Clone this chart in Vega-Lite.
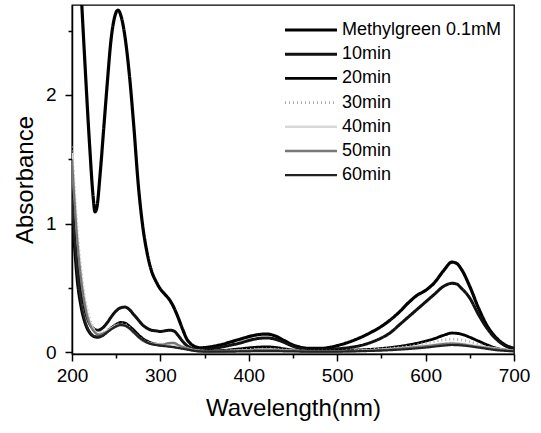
{
  "$schema": "https://vega.github.io/schema/vega-lite/v6.json",
  "width": 442,
  "height": 349,
  "autosize": {"type": "none"},
  "padding": {"left": 72, "top": 5, "right": 27, "bottom": 79},
  "background": "white",
  "config": {
    "font": "Liberation Sans",
    "view": {"stroke": "black", "strokeWidth": 1.3},
    "axis": {
      "domainColor": "black", "domainWidth": 1.5, "tickColor": "black", "tickWidth": 1.5,
      "labelColor": "black", "titleColor": "black", "labelFont": "Liberation Sans", "titleFont": "Liberation Sans",
      "labelFontSize": 19, "titleFontSize": 24, "titleFontWeight": "normal", "grid": false
    }
  },
  "data": {"values": [
    {"s":"Methylgreen 0.1mM","x":200,"y":4.5},{"s":"Methylgreen 0.1mM","x":205,"y":3.6},{"s":"Methylgreen 0.1mM","x":210,"y":2.85},{"s":"Methylgreen 0.1mM","x":215,"y":2.2},{"s":"Methylgreen 0.1mM","x":220,"y":1.6},{"s":"Methylgreen 0.1mM","x":224,"y":1.2},{"s":"Methylgreen 0.1mM","x":226,"y":1.09},{"s":"Methylgreen 0.1mM","x":228,"y":1.12},{"s":"Methylgreen 0.1mM","x":232,"y":1.4},{"s":"Methylgreen 0.1mM","x":236,"y":1.75},{"s":"Methylgreen 0.1mM","x":240,"y":2.1},{"s":"Methylgreen 0.1mM","x":244,"y":2.42},{"s":"Methylgreen 0.1mM","x":248,"y":2.6},{"s":"Methylgreen 0.1mM","x":252,"y":2.66},{"s":"Methylgreen 0.1mM","x":256,"y":2.6},{"s":"Methylgreen 0.1mM","x":260,"y":2.45},{"s":"Methylgreen 0.1mM","x":265,"y":2.15},{"s":"Methylgreen 0.1mM","x":270,"y":1.75},{"s":"Methylgreen 0.1mM","x":275,"y":1.3},{"s":"Methylgreen 0.1mM","x":280,"y":0.98},{"s":"Methylgreen 0.1mM","x":285,"y":0.77},{"s":"Methylgreen 0.1mM","x":290,"y":0.63},{"s":"Methylgreen 0.1mM","x":295,"y":0.55},{"s":"Methylgreen 0.1mM","x":300,"y":0.49},{"s":"Methylgreen 0.1mM","x":305,"y":0.45},{"s":"Methylgreen 0.1mM","x":310,"y":0.41},{"s":"Methylgreen 0.1mM","x":315,"y":0.35},{"s":"Methylgreen 0.1mM","x":320,"y":0.27},{"s":"Methylgreen 0.1mM","x":325,"y":0.18},{"s":"Methylgreen 0.1mM","x":330,"y":0.1},{"s":"Methylgreen 0.1mM","x":335,"y":0.06},{"s":"Methylgreen 0.1mM","x":340,"y":0.04},{"s":"Methylgreen 0.1mM","x":345,"y":0.033},{"s":"Methylgreen 0.1mM","x":350,"y":0.035},{"s":"Methylgreen 0.1mM","x":360,"y":0.045},{"s":"Methylgreen 0.1mM","x":370,"y":0.06},{"s":"Methylgreen 0.1mM","x":380,"y":0.08},{"s":"Methylgreen 0.1mM","x":390,"y":0.1},{"s":"Methylgreen 0.1mM","x":400,"y":0.12},{"s":"Methylgreen 0.1mM","x":410,"y":0.135},{"s":"Methylgreen 0.1mM","x":420,"y":0.14},{"s":"Methylgreen 0.1mM","x":430,"y":0.125},{"s":"Methylgreen 0.1mM","x":440,"y":0.09},{"s":"Methylgreen 0.1mM","x":450,"y":0.055},{"s":"Methylgreen 0.1mM","x":460,"y":0.035},{"s":"Methylgreen 0.1mM","x":470,"y":0.028},{"s":"Methylgreen 0.1mM","x":480,"y":0.028},{"s":"Methylgreen 0.1mM","x":490,"y":0.035},{"s":"Methylgreen 0.1mM","x":500,"y":0.05},{"s":"Methylgreen 0.1mM","x":510,"y":0.07},{"s":"Methylgreen 0.1mM","x":520,"y":0.095},{"s":"Methylgreen 0.1mM","x":530,"y":0.125},{"s":"Methylgreen 0.1mM","x":540,"y":0.16},{"s":"Methylgreen 0.1mM","x":550,"y":0.2},{"s":"Methylgreen 0.1mM","x":560,"y":0.25},{"s":"Methylgreen 0.1mM","x":570,"y":0.31},{"s":"Methylgreen 0.1mM","x":580,"y":0.38},{"s":"Methylgreen 0.1mM","x":590,"y":0.44},{"s":"Methylgreen 0.1mM","x":600,"y":0.48},{"s":"Methylgreen 0.1mM","x":610,"y":0.54},{"s":"Methylgreen 0.1mM","x":620,"y":0.63},{"s":"Methylgreen 0.1mM","x":630,"y":0.7},{"s":"Methylgreen 0.1mM","x":635,"y":0.69},{"s":"Methylgreen 0.1mM","x":640,"y":0.65},{"s":"Methylgreen 0.1mM","x":650,"y":0.51},{"s":"Methylgreen 0.1mM","x":660,"y":0.34},{"s":"Methylgreen 0.1mM","x":670,"y":0.2},{"s":"Methylgreen 0.1mM","x":680,"y":0.11},{"s":"Methylgreen 0.1mM","x":690,"y":0.055},{"s":"Methylgreen 0.1mM","x":700,"y":0.03},

    {"s":"10min","x":200,"y":1.3},{"s":"10min","x":203,"y":1.0},{"s":"10min","x":206,"y":0.75},{"s":"10min","x":210,"y":0.5},{"s":"10min","x":215,"y":0.32},{"s":"10min","x":220,"y":0.22},{"s":"10min","x":225,"y":0.18},{"s":"10min","x":229,"y":0.17},{"s":"10min","x":235,"y":0.19},{"s":"10min","x":240,"y":0.23},{"s":"10min","x":245,"y":0.28},{"s":"10min","x":250,"y":0.32},{"s":"10min","x":255,"y":0.345},{"s":"10min","x":260,"y":0.35},{"s":"10min","x":265,"y":0.33},{"s":"10min","x":270,"y":0.29},{"s":"10min","x":275,"y":0.25},{"s":"10min","x":280,"y":0.21},{"s":"10min","x":285,"y":0.185},{"s":"10min","x":290,"y":0.17},{"s":"10min","x":295,"y":0.165},{"s":"10min","x":300,"y":0.16},{"s":"10min","x":305,"y":0.165},{"s":"10min","x":310,"y":0.17},{"s":"10min","x":315,"y":0.165},{"s":"10min","x":320,"y":0.13},{"s":"10min","x":325,"y":0.085},{"s":"10min","x":330,"y":0.05},{"s":"10min","x":335,"y":0.03},{"s":"10min","x":340,"y":0.022},{"s":"10min","x":345,"y":0.02},{"s":"10min","x":350,"y":0.022},{"s":"10min","x":360,"y":0.03},{"s":"10min","x":370,"y":0.04},{"s":"10min","x":380,"y":0.055},{"s":"10min","x":390,"y":0.07},{"s":"10min","x":400,"y":0.09},{"s":"10min","x":410,"y":0.105},{"s":"10min","x":420,"y":0.11},{"s":"10min","x":430,"y":0.1},{"s":"10min","x":440,"y":0.075},{"s":"10min","x":450,"y":0.045},{"s":"10min","x":460,"y":0.025},{"s":"10min","x":470,"y":0.018},{"s":"10min","x":480,"y":0.018},{"s":"10min","x":490,"y":0.02},{"s":"10min","x":500,"y":0.025},{"s":"10min","x":510,"y":0.032},{"s":"10min","x":520,"y":0.042},{"s":"10min","x":530,"y":0.057},{"s":"10min","x":540,"y":0.08},{"s":"10min","x":550,"y":0.11},{"s":"10min","x":560,"y":0.15},{"s":"10min","x":570,"y":0.21},{"s":"10min","x":580,"y":0.27},{"s":"10min","x":590,"y":0.33},{"s":"10min","x":600,"y":0.39},{"s":"10min","x":610,"y":0.45},{"s":"10min","x":620,"y":0.51},{"s":"10min","x":630,"y":0.535},{"s":"10min","x":635,"y":0.53},{"s":"10min","x":640,"y":0.5},{"s":"10min","x":650,"y":0.42},{"s":"10min","x":660,"y":0.29},{"s":"10min","x":670,"y":0.18},{"s":"10min","x":680,"y":0.1},{"s":"10min","x":690,"y":0.05},{"s":"10min","x":700,"y":0.028},

    {"s":"20min","x":200,"y":1.1},{"s":"20min","x":203,"y":0.8},{"s":"20min","x":206,"y":0.55},{"s":"20min","x":210,"y":0.36},{"s":"20min","x":215,"y":0.22},{"s":"20min","x":220,"y":0.15},{"s":"20min","x":225,"y":0.12},{"s":"20min","x":229,"y":0.115},{"s":"20min","x":235,"y":0.13},{"s":"20min","x":240,"y":0.16},{"s":"20min","x":245,"y":0.19},{"s":"20min","x":250,"y":0.215},{"s":"20min","x":255,"y":0.23},{"s":"20min","x":260,"y":0.225},{"s":"20min","x":265,"y":0.2},{"s":"20min","x":270,"y":0.17},{"s":"20min","x":275,"y":0.135},{"s":"20min","x":280,"y":0.105},{"s":"20min","x":285,"y":0.085},{"s":"20min","x":290,"y":0.07},{"s":"20min","x":300,"y":0.055},{"s":"20min","x":310,"y":0.048},{"s":"20min","x":320,"y":0.038},{"s":"20min","x":330,"y":0.025},{"s":"20min","x":340,"y":0.012},{"s":"20min","x":350,"y":0.008},{"s":"20min","x":370,"y":0.012},{"s":"20min","x":390,"y":0.025},{"s":"20min","x":410,"y":0.038},{"s":"20min","x":420,"y":0.04},{"s":"20min","x":430,"y":0.036},{"s":"20min","x":440,"y":0.025},{"s":"20min","x":460,"y":0.01},{"s":"20min","x":480,"y":0.008},{"s":"20min","x":500,"y":0.01},{"s":"20min","x":520,"y":0.015},{"s":"20min","x":540,"y":0.022},{"s":"20min","x":560,"y":0.035},{"s":"20min","x":580,"y":0.055},{"s":"20min","x":600,"y":0.085},{"s":"20min","x":610,"y":0.105},{"s":"20min","x":620,"y":0.13},{"s":"20min","x":630,"y":0.148},{"s":"20min","x":640,"y":0.14},{"s":"20min","x":650,"y":0.115},{"s":"20min","x":660,"y":0.085},{"s":"20min","x":670,"y":0.055},{"s":"20min","x":680,"y":0.03},{"s":"20min","x":690,"y":0.017},{"s":"20min","x":700,"y":0.012},

    {"s":"30min","x":200,"y":1.6},{"s":"30min","x":203,"y":1.25},{"s":"30min","x":206,"y":0.95},{"s":"30min","x":210,"y":0.65},{"s":"30min","x":215,"y":0.4},{"s":"30min","x":220,"y":0.26},{"s":"30min","x":225,"y":0.18},{"s":"30min","x":230,"y":0.15},{"s":"30min","x":235,"y":0.155},{"s":"30min","x":240,"y":0.175},{"s":"30min","x":245,"y":0.2},{"s":"30min","x":250,"y":0.215},{"s":"30min","x":255,"y":0.22},{"s":"30min","x":260,"y":0.215},{"s":"30min","x":265,"y":0.19},{"s":"30min","x":270,"y":0.155},{"s":"30min","x":275,"y":0.12},{"s":"30min","x":280,"y":0.095},{"s":"30min","x":290,"y":0.07},{"s":"30min","x":300,"y":0.062},{"s":"30min","x":310,"y":0.065},{"s":"30min","x":320,"y":0.052},{"s":"30min","x":330,"y":0.032},{"s":"30min","x":340,"y":0.015},{"s":"30min","x":350,"y":0.008},{"s":"30min","x":380,"y":0.01},{"s":"30min","x":400,"y":0.02},{"s":"30min","x":420,"y":0.025},{"s":"30min","x":440,"y":0.018},{"s":"30min","x":460,"y":0.008},{"s":"30min","x":500,"y":0.008},{"s":"30min","x":540,"y":0.02},{"s":"30min","x":580,"y":0.045},{"s":"30min","x":600,"y":0.07},{"s":"30min","x":620,"y":0.095},{"s":"30min","x":630,"y":0.1},{"s":"30min","x":640,"y":0.095},{"s":"30min","x":660,"y":0.06},{"s":"30min","x":680,"y":0.025},{"s":"30min","x":700,"y":0.01},

    {"s":"40min","x":200,"y":1.55},{"s":"40min","x":203,"y":1.2},{"s":"40min","x":206,"y":0.9},{"s":"40min","x":210,"y":0.62},{"s":"40min","x":215,"y":0.38},{"s":"40min","x":220,"y":0.24},{"s":"40min","x":225,"y":0.17},{"s":"40min","x":230,"y":0.14},{"s":"40min","x":240,"y":0.165},{"s":"40min","x":250,"y":0.205},{"s":"40min","x":255,"y":0.21},{"s":"40min","x":260,"y":0.205},{"s":"40min","x":270,"y":0.15},{"s":"40min","x":280,"y":0.09},{"s":"40min","x":290,"y":0.065},{"s":"40min","x":300,"y":0.058},{"s":"40min","x":310,"y":0.06},{"s":"40min","x":320,"y":0.048},{"s":"40min","x":330,"y":0.03},{"s":"40min","x":340,"y":0.012},{"s":"40min","x":360,"y":0.006},{"s":"40min","x":400,"y":0.015},{"s":"40min","x":420,"y":0.02},{"s":"40min","x":440,"y":0.014},{"s":"40min","x":480,"y":0.005},{"s":"40min","x":540,"y":0.015},{"s":"40min","x":600,"y":0.05},{"s":"40min","x":630,"y":0.07},{"s":"40min","x":660,"y":0.045},{"s":"40min","x":700,"y":0.008},

    {"s":"50min","x":200,"y":1.5},{"s":"50min","x":203,"y":1.15},{"s":"50min","x":206,"y":0.86},{"s":"50min","x":210,"y":0.58},{"s":"50min","x":215,"y":0.35},{"s":"50min","x":220,"y":0.22},{"s":"50min","x":225,"y":0.16},{"s":"50min","x":230,"y":0.135},{"s":"50min","x":240,"y":0.16},{"s":"50min","x":250,"y":0.2},{"s":"50min","x":255,"y":0.212},{"s":"50min","x":260,"y":0.207},{"s":"50min","x":270,"y":0.15},{"s":"50min","x":280,"y":0.09},{"s":"50min","x":290,"y":0.063},{"s":"50min","x":300,"y":0.055},{"s":"50min","x":310,"y":0.07},{"s":"50min","x":315,"y":0.072},{"s":"50min","x":320,"y":0.055},{"s":"50min","x":330,"y":0.03},{"s":"50min","x":340,"y":0.012},{"s":"50min","x":360,"y":0.006},{"s":"50min","x":400,"y":0.012},{"s":"50min","x":420,"y":0.018},{"s":"50min","x":440,"y":0.012},{"s":"50min","x":480,"y":0.004},{"s":"50min","x":540,"y":0.012},{"s":"50min","x":600,"y":0.045},{"s":"50min","x":630,"y":0.065},{"s":"50min","x":660,"y":0.04},{"s":"50min","x":700,"y":0.006},

    {"s":"60min","x":200,"y":1.2},{"s":"60min","x":203,"y":0.88},{"s":"60min","x":206,"y":0.62},{"s":"60min","x":210,"y":0.4},{"s":"60min","x":215,"y":0.24},{"s":"60min","x":220,"y":0.16},{"s":"60min","x":225,"y":0.125},{"s":"60min","x":229,"y":0.12},{"s":"60min","x":235,"y":0.13},{"s":"60min","x":240,"y":0.155},{"s":"60min","x":245,"y":0.18},{"s":"60min","x":250,"y":0.2},{"s":"60min","x":255,"y":0.21},{"s":"60min","x":260,"y":0.205},{"s":"60min","x":265,"y":0.185},{"s":"60min","x":270,"y":0.155},{"s":"60min","x":275,"y":0.12},{"s":"60min","x":280,"y":0.095},{"s":"60min","x":285,"y":0.075},{"s":"60min","x":290,"y":0.062},{"s":"60min","x":300,"y":0.05},{"s":"60min","x":310,"y":0.042},{"s":"60min","x":320,"y":0.032},{"s":"60min","x":330,"y":0.02},{"s":"60min","x":340,"y":0.008},{"s":"60min","x":350,"y":0.004},{"s":"60min","x":380,"y":0.004},{"s":"60min","x":400,"y":0.006},{"s":"60min","x":420,"y":0.008},{"s":"60min","x":440,"y":0.006},{"s":"60min","x":480,"y":0.003},{"s":"60min","x":520,"y":0.006},{"s":"60min","x":560,"y":0.015},{"s":"60min","x":600,"y":0.035},{"s":"60min","x":620,"y":0.05},{"s":"60min","x":630,"y":0.055},{"s":"60min","x":640,"y":0.052},{"s":"60min","x":660,"y":0.035},{"s":"60min","x":680,"y":0.015},{"s":"60min","x":700,"y":0.006}
  ]},
  "mark": {"type": "line", "interpolate": "monotone", "clip": true},
  "encoding": {
    "x": {
      "field": "x", "type": "quantitative",
      "scale": {"domain": [200, 700], "nice": false, "zero": false},
      "axis": {
        "title": "Wavelength(nm)", "values": [200,250,300,350,400,450,500,550,600,650,700],
        "format": "d",
        "labelExpr": "datum.value % 100 === 0 ? datum.label : ''",
        "tickSize": {"condition": {"test": "datum.value % 100 === 0", "value": 7}, "value": 4},
        "labelPadding": 5, "titlePadding": 11, "labelFlush": false
      }
    },
    "y": {
      "field": "y", "type": "quantitative",
      "scale": {"domain": [-0.015, 2.7], "nice": false, "zero": false},
      "axis": {
        "title": "Absorbance", "values": [0,0.5,1,1.5,2,2.5],
        "format": ".0f",
        "labelExpr": "datum.value % 1 === 0 ? datum.label : ''",
        "tickSize": {"condition": {"test": "datum.value % 1 === 0", "value": 7}, "value": 4},
        "labelPadding": 9, "titlePadding": 8, "labelFlush": false
      }
    },
    "detail": {"field": "s"},
    "color": {
      "field": "s", "type": "nominal",
      "scale": {"domain": ["Methylgreen 0.1mM","10min","20min","30min","40min","50min","60min"],
                "range": ["#000000","#111111","#000000","#aaaaaa","#d8d8d8","#777777","#222222"]},
      "legend": {
        "title": null, "orient": "none", "legendX": 211, "legendY": 15, "padding": 0,
        "symbolType": "stroke", "symbolSize": 2700, "clipHeight": 20, "rowPadding": 4.2,
        "labelFontSize": 18, "labelFont": "Liberation Sans", "labelColor": "black", "labelOffset": 3,
        "symbolStrokeWidth": 2
      }
    },
    "strokeWidth": {
      "field": "s", "type": "nominal",
      "scale": {"domain": ["Methylgreen 0.1mM","10min","20min","30min","40min","50min","60min"],
                "range": [3.2, 2.2, 2.6, 1.3, 1, 0.9, 1.8]},
      "legend": null
    },
    "strokeDash": {
      "field": "s", "type": "nominal",
      "scale": {"domain": ["Methylgreen 0.1mM","10min","20min","30min","40min","50min","60min"],
                "range": [[1,0],[1,0],[1,0],[1,3],[1,0],[1,0],[1,0]]},
      "legend": null
    }
  }
}
